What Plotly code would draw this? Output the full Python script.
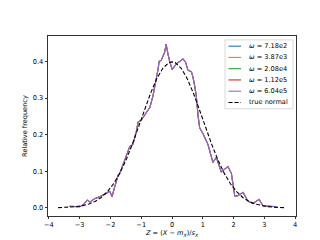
import plotly.graph_objects as go

# Histogram polyline (all five omega series coincide; only the last one is visible)
z_vals = [-3.33, -3.17, -3.0, -2.89, -2.75, -2.67, -2.51, -2.35, -2.24, -2.13, -2.02, -1.95,
          -1.86, -1.75, -1.70, -1.59, -1.48, -1.37, -1.27, -1.16, -1.10, -1.0, -0.83, -0.72,
          -0.62, -0.51, -0.45, -0.42, -0.35, -0.24, -0.19, -0.13, -0.07, 0.01, 0.14, 0.25,
          0.36, 0.44, 0.52, 0.63, 0.68, 0.74, 0.79, 0.85, 0.90, 1.0, 1.17, 1.33, 1.44, 1.6,
          1.82, 1.93, 2.04, 2.14, 2.31, 2.47, 2.63, 2.83, 2.96, 3.39]
freq = [0.004, 0.004, 0.003, 0.008, 0.021, 0.016, 0.025, 0.030, 0.036, 0.040, 0.045, 0.030,
        0.058, 0.089, 0.094, 0.120, 0.146, 0.168, 0.173, 0.208, 0.235, 0.239, 0.261, 0.274,
        0.305, 0.350, 0.380, 0.400, 0.403, 0.425, 0.447, 0.420, 0.398, 0.378, 0.394, 0.400,
        0.407, 0.398, 0.376, 0.372, 0.358, 0.332, 0.305, 0.250, 0.218, 0.204, 0.173, 0.124,
        0.138, 0.098, 0.113, 0.094, 0.032, 0.033, 0.042, 0.018, 0.012, 0.023, 0.005, 0.003]

series_names = ["<i>ω</i> = 7.18e2", "<i>ω</i> = 3.87e3", "<i>ω</i> = 2.08e4",
                "<i>ω</i> = 1.12e5", "<i>ω</i> = 6.04e5"]
series_colors = ["#1f77b4", "#ff7f0e", "#2ca02c", "#d62728", "#9467bd"]

# True normal curve values
normal_x = [-3.7, -3.5, -3.3, -3.1, -2.9, -2.7, -2.5, -2.3, -2.1, -1.9, -1.7, -1.5, -1.3,
            -1.1, -0.9, -0.7, -0.5, -0.3, -0.1, 0.0, 0.1, 0.3, 0.5, 0.7, 0.9, 1.1, 1.3, 1.5,
            1.7, 1.9, 2.1, 2.3, 2.5, 2.7, 2.9, 3.1, 3.3, 3.5, 3.7]
normal_y = [0.0004, 0.0009, 0.0017, 0.0033, 0.0060, 0.0104, 0.0175, 0.0283, 0.0440, 0.0656,
            0.0941, 0.1295, 0.1714, 0.2179, 0.2661, 0.3123, 0.3521, 0.3814, 0.3970, 0.3989,
            0.3970, 0.3814, 0.3521, 0.3123, 0.2661, 0.2179, 0.1714, 0.1295, 0.0941, 0.0656,
            0.0440, 0.0283, 0.0175, 0.0104, 0.0060, 0.0033, 0.0017, 0.0009, 0.0004]

x_ticks = [-4, -3, -2, -1, 0, 1, 2, 3, 4]
y_ticks = [0.0, 0.1, 0.2, 0.3, 0.4]

FONT = "DejaVu Sans"
fig = go.Figure()
n = len(series_names)
for i, (name, color) in enumerate(zip(series_names, series_colors)):
    w = 1.25 if i == n - 1 else 0.7
    fig.add_trace(go.Scatter(x=z_vals, y=freq, mode="lines", name=name,
                             line=dict(color=color, width=w), showlegend=False))
fig.add_trace(go.Scatter(x=normal_x, y=normal_y, mode="lines", name="true normal",
                         line=dict(color="black", width=1.1, dash="4px,2px"),
                         showlegend=False))

# Plot area in pixels
L, R, T, B = 40, 288, 28, 213.6
W, H = 320, 240

def px_x(p):
    return (p - L) / (R - L)

def px_y(p):
    return (B - p) / (B - T)

shapes = [dict(type="rect", xref="paper", yref="paper",
               x0=px_x(217), x1=px_x(285), y0=px_y(103), y1=px_y(32),
               line=dict(color="#d0d0d0", width=0.8), fillcolor="rgba(255,255,255,0.8)",
               layer="above")]
annotations = []
legend_names = series_names + ["true normal"]
legend_colors = series_colors + ["black"]
legend_dash = ["solid"] * 5 + ["4px,2px"]
for i, (nm, col, ds) in enumerate(zip(legend_names, legend_colors, legend_dash)):
    yy = px_y(38.5 + i * 11.6)
    shapes.append(dict(type="line", xref="paper", yref="paper",
                       x0=px_x(220.5), x1=px_x(233), y0=yy, y1=yy,
                       line=dict(color=col, width=1.1, dash=ds), layer="above"))
    annotations.append(dict(xref="paper", yref="paper", x=px_x(238.5), y=yy,
                            text=nm, showarrow=False, xanchor="left", yanchor="middle",
                            font=dict(family=FONT, size=6.6, color="black")))

axis_common = dict(showline=True, linecolor="#333", linewidth=0.7, mirror=True,
                   ticks="outside", ticklen=2.5, tickwidth=0.7, tickcolor="#333",
                   showgrid=False, zeroline=False,
                   tickfont=dict(family=FONT, size=6.6, color="black"))

fig.update_layout(
    width=W, height=H,
    margin=dict(l=L, r=W - R, t=T, b=H - B, pad=0),
    paper_bgcolor="white", plot_bgcolor="white",
    font=dict(family=FONT, size=6.6, color="black"),
    xaxis=dict(range=[-4.03, 4.03], tickvals=x_ticks,
               title=dict(text="<i>Z</i> = (<i>X</i> − <i>m</i><sub><i>X</i></sub>)/<i>s</i><sub><i>X</i></sub>",
                          font=dict(family=FONT, size=6.6, color="black"), standoff=2),
               **axis_common),
    yaxis=dict(range=[-0.0224, 0.4696], tickvals=y_ticks, tickformat=".1f",
               title=dict(text="Relative frequency",
                          font=dict(family=FONT, size=6.6, color="black"), standoff=4),
               **axis_common),
    shapes=shapes, annotations=annotations, showlegend=False,
)

fig.write_html("out.html")
